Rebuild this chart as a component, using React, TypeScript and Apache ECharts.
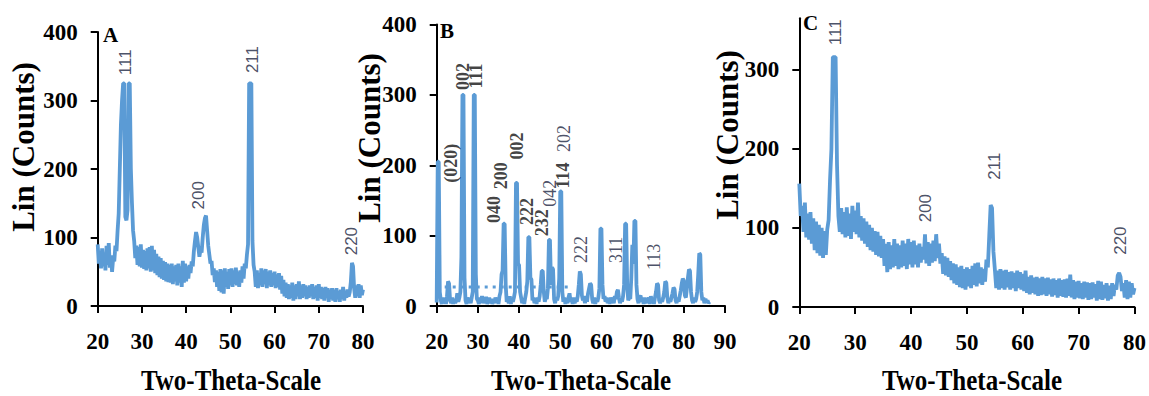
import React, { useEffect, useRef } from "react";
import * as echarts from "echarts";

// Sampling grid of the diffractograms (degrees 2θ)
const STEP = 0.25;
const START = 20;

// Panel A — intensity (counts), 20°..80°
const countsA = [
  90, 62, 80, 55, 84, 58, 78, 52,
  88, 60, 92, 56, 74, 50, 70, 65,
  88, 80, 110, 135, 200, 265, 300, 325,
  325, 130, 125, 140, 325, 325, 200, 150,
  110, 95, 70, 88, 60, 86, 58, 90,
  56, 82, 54, 80, 52, 84, 55, 86,
  50, 88, 52, 82, 48, 76, 45, 72,
  42, 70, 40, 66, 38, 64, 36, 62,
  35, 60, 34, 62, 32, 58, 36, 60,
  30, 62, 34, 58, 28, 66, 34, 62,
  36, 58, 40, 60, 48, 65, 58, 80,
  95, 108, 100, 86, 72, 82, 78, 100,
  118, 128, 132, 110, 88, 75, 62, 66,
  45, 55, 35, 52, 28, 50, 22, 54,
  20, 52, 18, 55, 28, 50, 25, 54,
  30, 55, 28, 52, 32, 56, 30, 50,
  28, 52, 34, 58, 40, 62, 55, 75,
  90, 325, 325, 325, 95, 60, 50, 28,
  52, 26, 48, 30, 55, 28, 52, 32,
  54, 26, 50, 30, 52, 28, 48, 30,
  50, 26, 46, 28, 48, 24, 44, 18,
  38, 14, 34, 12, 32, 10, 30, 12,
  34, 8, 30, 10, 32, 14, 36, 10,
  30, 12, 32, 14, 30, 10, 28, 12,
  30, 14, 32, 10, 28, 12, 30, 8,
  32, 12, 28, 10, 26, 8, 28, 12,
  26, 6, 24, 10, 26, 8, 24, 6,
  26, 10, 22, 6, 24, 10, 28, 8,
  22, 12, 24, 14, 20, 35, 63, 58,
  25, 12, 30, 14, 32, 12, 30, 16,
  24,
];

// Panel B — intensity (counts), 20°..86.25°
const countsB = [
  5, 205, 205, 20, 8, 3, 12, 4,
  10, 3, 14, 35, 32, 8, 4, 12,
  3, 10, 4, 8, 18, 6, 12, 20,
  70, 300, 300, 40, 8, 3, 12, 6,
  10, 4, 12, 20, 300, 300, 45, 10,
  8, 3, 12, 6, 14, 4, 10, 5,
  13, 3, 8, 12, 4, 10, 3, 8,
  4, 12, 6, 10, 3, 14, 20, 45,
  50, 117, 117, 30, 6, 10, 4, 14,
  3, 10, 6, 12, 20, 175, 175, 60,
  58, 20, 12, 4, 10, 3, 12, 20,
  35, 98, 98, 40, 38, 8, 12, 4,
  10, 3, 12, 6, 14, 30, 50, 50,
  20, 6, 12, 10, 25, 94, 94, 30,
  55, 52, 10, 4, 12, 8, 14, 40,
  163, 163, 20, 6, 12, 3, 10, 4,
  12, 18, 6, 10, 3, 12, 4, 10,
  6, 14, 30, 49, 45, 15, 8, 12,
  4, 14, 6, 18, 25, 32, 30, 10,
  4, 12, 3, 10, 6, 12, 25, 110,
  110, 30, 10, 14, 6, 12, 4, 10,
  3, 12, 6, 10, 4, 14, 10, 20,
  23, 12, 4, 10, 6, 14, 30, 117,
  117, 30, 8, 12, 10, 40, 87, 60,
  121, 121, 30, 10, 4, 12, 15, 6,
  10, 3, 12, 4, 10, 6, 12, 3,
  14, 6, 10, 3, 12, 20, 32, 30,
  8, 4, 10, 6, 12, 20, 35, 33,
  12, 4, 10, 6, 12, 18, 26, 24,
  8, 4, 12, 6, 14, 22, 32, 39,
  36, 15, 12, 25, 40, 52, 50, 20,
  8, 4, 12, 6, 10, 20, 45, 75,
  73, 20, 8, 12, 4, 10, 6, 8,
  4, 6,
];

// Panel B — dotted reference level
const levelBX = [20, 53];
const levelBY = [27, 27];

// Panel C — intensity (counts), 20°..80°
const countsC = [
  156, 115, 128, 95, 132, 88, 118, 85,
  120, 80, 112, 72, 108, 68, 104, 65,
  100, 62, 96, 66, 98, 110, 160, 200,
  316, 316, 316, 180, 115, 95, 125, 92,
  120, 88, 126, 90, 118, 86, 128, 95,
  122, 92, 132, 88, 115, 84, 112, 80,
  108, 76, 104, 72, 100, 70, 96, 66,
  95, 64, 90, 62, 86, 52, 80, 44,
  82, 48, 78, 50, 86, 52, 80, 48,
  78, 50, 84, 52, 80, 48, 86, 54,
  82, 50, 84, 54, 78, 50, 80, 56,
  76, 60, 92, 55, 82, 52, 80, 56,
  84, 58, 92, 62, 80, 55, 68, 42,
  64, 40, 62, 38, 58, 34, 55, 30,
  54, 28, 50, 25, 52, 24, 48, 22,
  50, 26, 48, 24, 52, 28, 55, 26,
  56, 30, 50, 28, 48, 32, 60, 50,
  90, 129, 125, 70, 48, 24, 46, 22,
  48, 24, 46, 22, 47, 25, 44, 22,
  45, 24, 43, 20, 46, 24, 44, 22,
  42, 20, 46, 18, 38, 16, 40, 18,
  37, 16, 38, 14, 36, 15, 38, 16,
  36, 14, 37, 16, 35, 13, 36, 15,
  34, 12, 36, 14, 34, 13, 35, 12,
  36, 14, 41, 12, 34, 10, 32, 12,
  33, 11, 30, 10, 32, 12, 31, 9,
  30, 10, 31, 12, 29, 8, 33, 10,
  32, 9, 28, 11, 30, 8, 27, 10,
  30, 14, 28, 22, 40, 43, 38, 20,
  30, 12, 34, 10, 32, 12, 30, 16,
  24,
];

// Miller-index annotations: text, 2θ position, count level of the text's foot
const hklA = ["111", "200", "211", "220"];
const hklAX = [26.3, 42.75, 55.0, 77.45];
const hklAY = [337, 141, 340, 74];

const hklB = ["(020)", "002", "111", "040", "200", "002", "222", "232", "042", "114", "202", "222", "311", "113"];
const hklBX = [23.5, 26.45, 29.5, 33.95, 35.55, 39.6, 41.85, 45.5, 47.5, 50.7, 50.8, 55.0, 63.5, 72.8];
const hklBY = [175, 307, 309, 118, 166, 208, 115, 99, 141, 167, 219, 61, 61, 51];
const hklBBold = [true, true, true, true, true, true, true, true, false, true, false, false, false, false];

const hklC = ["111", "200", "211", "220"];
const hklCX = [26.4, 42.55, 54.9, 77.5];
const hklCY = [331, 107, 161, 66];

// Axis ranges and tick labels
const xMaxA = 80;
const xMaxB = 90;
const xMaxC = 80;
const yMaxA = 400;
const yMaxB = 400;
const yMaxC = 365;
const yTicksC = [0, 100, 200, 300];

const BLUE = "#5b9bd5";
const SERIF = '"Liberation Serif", "Times New Roman", serif';
const SANS = '"Liberation Sans", Arial, sans-serif';

const toPairs = (vals: number[]) => vals.map((v, i) => [START + i * STEP, v]);

const axisStroke = { color: "#000", width: 2 };
const tickFont = {
  fontFamily: SERIF,
  fontWeight: "bold" as const,
  fontSize: 23,
  color: "#000",
};

function xAxis(gridIndex: number, max: number) {
  return {
    type: "value",
    gridIndex,
    min: 20,
    max,
    interval: 10,
    axisLine: { show: true, onZero: false, lineStyle: axisStroke },
    axisTick: { show: true, length: 7, lineStyle: axisStroke },
    axisLabel: { ...tickFont, margin: 24 },
    splitLine: { show: false },
  };
}

function yAxis(gridIndex: number, max: number, custom?: number[]) {
  return {
    type: "value",
    gridIndex,
    min: 0,
    max,
    interval: 100,
    axisLine: { show: true, onZero: false, lineStyle: axisStroke },
    axisTick: custom
      ? { show: true, length: 7, lineStyle: axisStroke, customValues: custom }
      : { show: true, length: 7, lineStyle: axisStroke },
    axisLabel: custom ? { ...tickFont, margin: 20, customValues: custom } : { ...tickFont, margin: 20 },
    splitLine: { show: false },
  };
}

function traceSeries(index: number, vals: number[]) {
  return {
    type: "line",
    xAxisIndex: index,
    yAxisIndex: index,
    data: toPairs(vals),
    symbol: "none",
    showSymbol: false,
    silent: true,
    z: 3,
    lineStyle: { color: BLUE, width: 3.8 },
  };
}

function hklSeries(
  index: number,
  texts: string[],
  xs: number[],
  ys: number[],
  style: (i: number) => Record<string, unknown>
) {
  return {
    type: "scatter",
    xAxisIndex: index,
    yAxisIndex: index,
    symbolSize: 0,
    silent: true,
    z: 6,
    itemStyle: { color: "transparent" },
    data: texts.map((t, i) => ({
      name: t,
      value: [xs[i], ys[i]],
      label: {
        show: true,
        formatter: "{b}",
        position: "inside",
        rotate: 90,
        align: "left",
        verticalAlign: "middle",
        ...style(i),
      },
    })),
  };
}

function yTitle(x: number, y: number) {
  return {
    type: "text",
    x,
    y,
    rotation: Math.PI / 2,
    style: {
      text: "Lin (Counts)",
      font: `bold 31px ${SERIF}`,
      fill: "#000",
      textAlign: "center",
      textVerticalAlign: "middle",
    },
  };
}

function xTitle(x: number, y: number) {
  return {
    type: "text",
    x,
    y,
    scaleY: 1.15,
    style: {
      text: "Two-Theta-Scale",
      font: `bold 25px ${SERIF}`,
      fill: "#000",
      textAlign: "center",
      textVerticalAlign: "middle",
    },
  };
}

function panelLetter(text: string, x: number, y: number) {
  return {
    type: "text",
    x,
    y,
    style: {
      text,
      font: `bold 21px ${SERIF}`,
      fill: "#000",
      textAlign: "left",
      textVerticalAlign: "middle",
    },
  };
}

export default function App() {
  const ref = useRef<HTMLDivElement>(null);

  useEffect(() => {
    if (!ref.current) return;
    const chart = echarts.init(ref.current, undefined, { renderer: "svg" });

    const sansLabel = () => ({ fontFamily: SANS, fontSize: 17, color: "#1a2440" });

    chart.setOption({
      animation: false,
      backgroundColor: "#fff",
      grid: [
        { left: 97.7, top: 32, width: 265.3, height: 274 },
        { left: 436.7, top: 24.5, width: 288.3, height: 281.5 },
        { left: 799.3, top: 18.3, width: 335.7, height: 288.7 },
      ],
      xAxis: [xAxis(0, xMaxA), xAxis(1, xMaxB), xAxis(2, xMaxC)],
      yAxis: [yAxis(0, yMaxA), yAxis(1, yMaxB), yAxis(2, yMaxC, yTicksC)],
      series: [
        traceSeries(0, countsA),
        {
          type: "line",
          xAxisIndex: 1,
          yAxisIndex: 1,
          data: levelBX.map((x, i) => [x, levelBY[i]]),
          symbol: "none",
          silent: true,
          z: 2,
          lineStyle: { color: BLUE, width: 3, type: [3, 5] },
        },
        traceSeries(1, countsB),
        traceSeries(2, countsC),
        hklSeries(0, hklA, hklAX, hklAY, sansLabel),
        hklSeries(1, hklB, hklBX, hklBY, (i) => ({
          fontFamily: SERIF,
          fontSize: 18,
          fontWeight: hklBBold[i] ? "bold" : "normal",
          color: hklBBold[i] ? "#111111" : "#1a2440",
        })),
        hklSeries(2, hklC, hklCX, hklCY, sansLabel),
      ],
      graphic: [
        yTitle(23, 147),
        yTitle(369, 138),
        yTitle(727, 135),
        xTitle(231, 380),
        xTitle(581, 380),
        xTitle(972, 380),
        panelLetter("A", 103, 35),
        panelLetter("B", 440, 31),
        panelLetter("C", 803, 23),
      ],
    });

    return () => chart.dispose();
  }, []);

  return (
    <div
      ref={ref}
      style={{ position: "fixed", left: 0, top: 0, width: 1149, height: 396, background: "#fff" }}
    />
  );
}
